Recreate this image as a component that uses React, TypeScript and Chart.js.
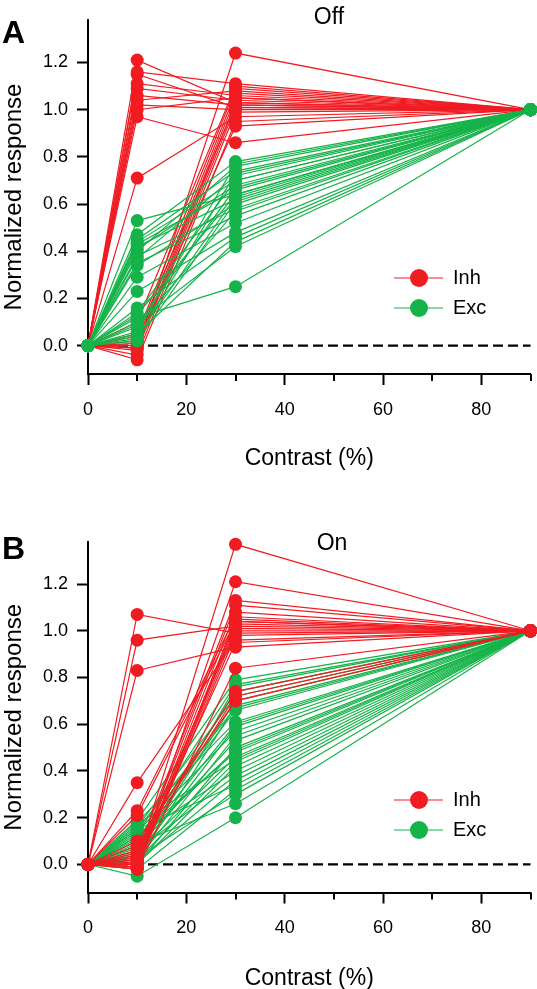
import React, { useEffect, useRef } from "react";
import { Chart, registerables } from "chart.js";

Chart.register(...registerables);

const FONT = "'Liberation Sans', Arial, Helvetica, sans-serif";
const RED = "#f01c22";
const GREEN = "#15b349";

// contrast levels (%) at which every cell was measured
const CONTRAST = [0, 10, 30, 90];
const X_MAJOR_TICKS = [0, 20, 40, 60, 80];
const X_MINOR_TICKS = [10, 30, 50, 70, 90];
const Y_TICKS = [0, 0.2, 0.4, 0.6, 0.8, 1.0, 1.2];
const LEGEND_LABELS = ["Inh", "Exc"];

// Panel A (Off): normalized responses at [0, 10, 30, 90] % contrast
const OFF_INH = [
  [0, 1.21, 1.03, 1],
  [0, 1.16, 1.11, 1],
  [0, 1.15, 1.01, 1],
  [0, 1.11, 1.06, 1],
  [0, 1.09, 1.04, 1],
  [0, 1.06, 1.02, 1],
  [0, 1.04, 1.08, 1],
  [0, 1.02, 1.0, 1],
  [0, 1.0, 1.05, 1],
  [0, 0.97, 0.86, 1],
  [0, 0.71, 0.97, 1],
  [0, -0.01, 1.24, 1],
  [0, 0.1, 1.1, 1],
  [0, 0.05, 1.09, 1],
  [0, 0.02, 1.07, 1],
  [0, 0.0, 1.05, 1],
  [0, -0.01, 1.03, 1],
  [0, -0.02, 1.01, 1],
  [0, -0.04, 0.99, 1],
  [0, -0.06, 0.95, 1],
  [0, 0.01, 0.93, 1],
  [0, 0.04, 1.02, 1],
];

const OFF_EXC = [
  [0, 0.53, 0.64, 1],
  [0, 0.47, 0.78, 1],
  [0, 0.45, 0.74, 1],
  [0, 0.44, 0.7, 1],
  [0, 0.43, 0.66, 1],
  [0, 0.42, 0.62, 1],
  [0, 0.41, 0.68, 1],
  [0, 0.4, 0.76, 1],
  [0, 0.38, 0.58, 1],
  [0, 0.37, 0.72, 1],
  [0, 0.35, 0.55, 1],
  [0, 0.34, 0.6, 1],
  [0, 0.29, 0.52, 1],
  [0, 0.23, 0.48, 1],
  [0, 0.16, 0.46, 1],
  [0, 0.14, 0.7, 1],
  [0, 0.13, 0.64, 1],
  [0, 0.12, 0.25, 1],
  [0, 0.1, 0.42, 1],
  [0, 0.09, 0.67, 1],
  [0, 0.08, 0.57, 1],
  [0, 0.06, 0.77, 1],
  [0, 0.05, 0.44, 1],
  [0, 0.04, 0.63, 1],
  [0, 0.03, 0.73, 1],
  [0, 0.02, 0.61, 1],
];

// Panel B (On)
const ON_INH = [
  [0, 1.07, 0.99, 1],
  [0, 0.96, 1.02, 1],
  [0, 0.83, 0.93, 1],
  [0, 0.35, 0.96, 1],
  [0, 0.23, 1.06, 1],
  [0, 0.21, 1.04, 1],
  [0, 0.02, 1.37, 1],
  [0, 0.0, 1.21, 1],
  [0, 0.05, 1.13, 1],
  [0, 0.03, 1.11, 1],
  [0, 0.01, 1.08, 1],
  [0, -0.01, 1.05, 1],
  [0, 0.0, 1.04, 1],
  [0, -0.02, 1.03, 1],
  [0, 0.04, 1.01, 1],
  [0, -0.01, 0.98, 1],
  [0, 0.02, 0.95, 1],
  [0, -0.02, 0.84, 1],
  [0, 0.08, 0.74, 1],
  [0, 0.06, 0.72, 1],
  [0, 0.1, 0.7, 1],
  [0, 0.0, 1.0, 1],
];

const ON_EXC = [
  [0, 0.19, 0.79, 1],
  [0, 0.18, 0.61, 1],
  [0, 0.17, 0.45, 1],
  [0, 0.16, 0.72, 1],
  [0, 0.15, 0.34, 1],
  [0, 0.14, 0.57, 1],
  [0, 0.13, 0.77, 1],
  [0, 0.12, 0.4, 1],
  [0, 0.11, 0.66, 1],
  [0, 0.1, 0.49, 1],
  [0, 0.09, 0.26, 1],
  [0, 0.08, 0.74, 1],
  [0, 0.07, 0.53, 1],
  [0, 0.06, 0.38, 1],
  [0, 0.05, 0.7, 1],
  [0, 0.05, 0.46, 1],
  [0, 0.04, 0.59, 1],
  [0, 0.03, 0.3, 1],
  [0, 0.03, 0.76, 1],
  [0, 0.02, 0.44, 1],
  [0, 0.02, 0.55, 1],
  [0, 0.01, 0.36, 1],
  [0, 0.01, 0.68, 1],
  [0, 0.0, 0.42, 1],
  [0, 0.0, 0.5, 1],
  [0, -0.02, 0.32, 1],
  [0, -0.05, 0.2, 1],
  [0, 0.12, 0.48, 1],
  [0, 0.08, 0.6, 1],
  [0, 0.15, 0.67, 1],
];

type PanelCfg = {
  letter: string;
  title: string;
  inh: number[][];
  exc: number[][];
  top: number;
  height: number;
  areaTop: number;
  areaBottom: number;
  letterBaseline: number;
  titleX: number;
  titleBaseline: number;
  legendY: number;
  inhOnTop: boolean;
};

const PANELS: PanelCfg[] = [
  {
    letter: "A",
    title: "Off",
    inh: OFF_INH,
    exc: OFF_EXC,
    top: 0,
    height: 472,
    areaTop: 20,
    areaBottom: 374,
    letterBaseline: 43,
    titleX: 329,
    titleBaseline: 24,
    legendY: 278,
    inhOnTop: false,
  },
  {
    letter: "B",
    title: "On",
    inh: ON_INH,
    exc: ON_EXC,
    top: 519,
    height: 473,
    areaTop: 23,
    areaBottom: 373.5,
    letterBaseline: 40,
    titleX: 332,
    titleBaseline: 31,
    legendY: 281,
    inhOnTop: true,
  },
];

function Panel({ cfg }: { cfg: PanelCfg }) {
  const ref = useRef<HTMLCanvasElement | null>(null);

  useEffect(() => {
    const canvas = ref.current;
    if (!canvas) return;
    const H = cfg.height;

    const mk = (rows: number[][], color: string, name: string) =>
      rows.map((r, i) => ({
        label: `${name} ${i + 1}`,
        data: r.map((v, j) => ({ x: CONTRAST[j], y: v })),
        borderColor: color,
        backgroundColor: color,
        pointBackgroundColor: color,
        pointBorderColor: color,
        pointBorderWidth: 0,
        pointRadius: 6.5,
        pointHoverRadius: 6.5,
        borderWidth: 1.2,
        tension: 0,
        clip: false as any,
      }));
    const inh = mk(cfg.inh, RED, "Inh");
    const exc = mk(cfg.exc, GREEN, "Exc");
    // first dataset is drawn last (on top)
    const datasets = cfg.inhOnTop ? [...inh, ...exc] : [...exc, ...inh];

    const deco = {
      id: "deco",
      beforeDatasetsDraw(chart: any) {
        const { ctx, chartArea, scales } = chart;
        const y0 = scales.y.getPixelForValue(0);
        ctx.save();
        ctx.strokeStyle = "#000";
        ctx.lineWidth = 2.2;
        ctx.setLineDash([10, 5]);
        ctx.beginPath();
        ctx.moveTo(chartArea.left, y0);
        ctx.lineTo(chartArea.right, y0);
        ctx.stroke();
        ctx.restore();
      },
      afterDraw(chart: any) {
        const { ctx, chartArea, scales } = chart;
        ctx.save();
        // minor x ticks
        ctx.strokeStyle = "#000";
        ctx.lineWidth = 2;
        X_MINOR_TICKS.forEach((v) => {
          const px = Math.round(scales.x.getPixelForValue(v));
          ctx.beginPath();
          ctx.moveTo(px, chartArea.bottom);
          ctx.lineTo(px, chartArea.bottom + 7);
          ctx.stroke();
        });
        // panel letter
        ctx.fillStyle = "#000";
        ctx.textBaseline = "alphabetic";
        ctx.textAlign = "left";
        ctx.font = `bold 32px ${FONT}`;
        ctx.fillText(cfg.letter, 2, cfg.letterBaseline);
        // title
        ctx.font = `23px ${FONT}`;
        ctx.textAlign = "center";
        ctx.fillText(cfg.title, cfg.titleX, cfg.titleBaseline);
        // legend
        const colors = [RED, GREEN];
        LEGEND_LABELS.forEach((lab, i) => {
          const y = cfg.legendY + i * 30;
          ctx.strokeStyle = colors[i];
          ctx.fillStyle = colors[i];
          ctx.lineWidth = 1.2;
          ctx.beginPath();
          ctx.moveTo(394, y);
          ctx.lineTo(443, y);
          ctx.stroke();
          ctx.beginPath();
          ctx.arc(419, y, 9, 0, Math.PI * 2);
          ctx.fill();
          ctx.fillStyle = "#000";
          ctx.font = `20px ${FONT}`;
          ctx.textAlign = "left";
          ctx.textBaseline = "middle";
          ctx.fillText(lab, 453, y);
        });
        ctx.restore();
      },
    };

    const chart = new Chart(canvas, {
      type: "line",
      data: { datasets: datasets as any },
      options: {
        responsive: false,
        animation: false,
        devicePixelRatio: 1,
        events: [],
        layout: { padding: { top: cfg.areaTop, right: 6, left: 0, bottom: 0 } },
        plugins: {
          legend: { display: false },
          tooltip: { enabled: false },
          title: { display: false },
        },
        scales: {
          x: {
            type: "linear",
            min: 0,
            max: 90,
            afterBuildTicks: (s: any) => {
              s.ticks = X_MAJOR_TICKS.map((v) => ({ value: v }));
            },
            afterFit: (s: any) => {
              s.height = H - cfg.areaBottom;
            },
            border: { display: true, color: "#000", width: 2 },
            grid: {
              display: true,
              drawOnChartArea: false,
              drawTicks: true,
              tickLength: 11,
              tickWidth: 2,
              tickColor: "#000",
              color: "#000",
            },
            ticks: {
              color: "#000",
              font: { family: FONT, size: 18 },
              padding: 14,
              maxRotation: 0,
              autoSkip: false,
            },
            title: {
              display: true,
              text: "Contrast (%)",
              color: "#000",
              font: { family: FONT, size: 23 },
              padding: { top: 0, bottom: 0 },
            },
          },
          y: {
            type: "linear",
            min: -0.12,
            max: 1.38,
            afterBuildTicks: (s: any) => {
              s.ticks = Y_TICKS.map((v) => ({ value: v }));
            },
            afterFit: (s: any) => {
              s.width = 88;
            },
            border: { display: true, color: "#000", width: 2 },
            grid: {
              display: true,
              drawOnChartArea: false,
              drawTicks: true,
              tickLength: 11,
              tickWidth: 2,
              tickColor: "#000",
              color: "#000",
            },
            ticks: {
              color: "#000",
              font: { family: FONT, size: 18 },
              padding: 9,
              callback: (v: any) => Number(v).toFixed(1),
            },
            title: {
              display: true,
              text: "Normalized response",
              color: "#000",
              font: { family: FONT, size: 24 },
              padding: { top: 0, bottom: 0 },
            },
          },
        },
      },
      plugins: [deco],
    } as any);

    return () => chart.destroy();
  }, [cfg]);

  return (
    <canvas
      ref={ref}
      width={537}
      height={cfg.height}
      style={{
        position: "absolute",
        left: 0,
        top: cfg.top,
        width: 537,
        height: cfg.height,
        display: "block",
      }}
    />
  );
}

export default function App() {
  useEffect(() => {
    document.body.style.margin = "0";
    document.body.style.overflow = "hidden";
  }, []);
  return (
    <div
      style={{
        position: "relative",
        width: 537,
        height: 989,
        overflow: "hidden",
        background: "#fff",
      }}
    >
      {PANELS.map((p) => (
        <Panel key={p.letter} cfg={p} />
      ))}
    </div>
  );
}
